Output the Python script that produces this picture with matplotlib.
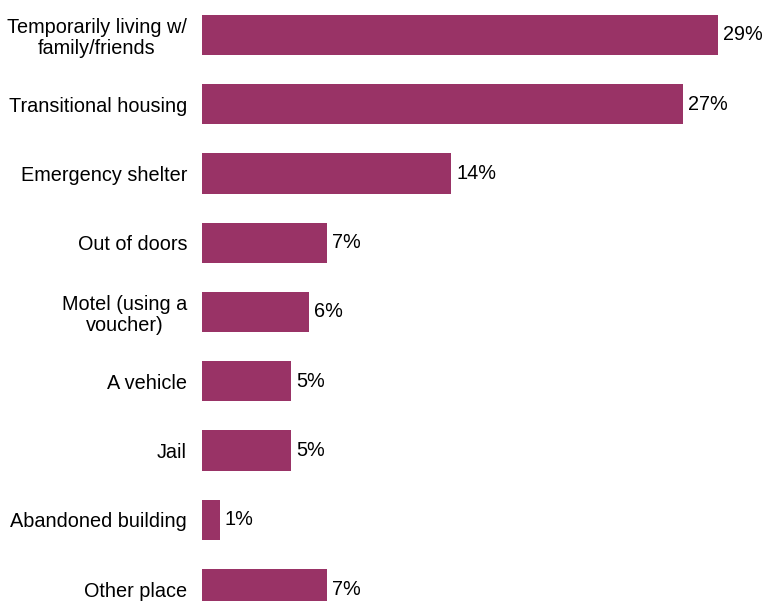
import matplotlib.pyplot as plt

plt.rcParams['font.family'] = ['Liberation Sans', 'DejaVu Sans']

places = ["Temporarily living w/\nfamily/friends", "Transitional housing",
          "Emergency shelter", "Out of doors", "Motel (using a\nvoucher)",
          "A vehicle", "Jail", "Abandoned building", "Other place"]
pct = [29, 27, 14, 7, 6, 5, 5, 1, 7]

bar_color = "#993366"
fs = 14.3

fig = plt.figure(figsize=(7.68, 6.01), dpi=100)
# axes start where the bars start; labels sit to the left of it
ax = fig.add_axes([202 / 768, 0, 552 / 768, 1])

pos = list(range(len(places)))
ax.barh(pos, pct, height=0.578, color=bar_color)

for y, v in zip(pos, pct):
    ax.text(v + 0.28, y, f"{v}%", va="center", ha="left", fontsize=fs)

ax.set_xlim(0, 31)
ax.set_ylim(8.173, -0.505)
ax.set_yticks(pos)
ax.set_yticklabels(places, fontsize=fs, multialignment="center", linespacing=1.15)
ax.tick_params(axis="y", length=0, pad=10.8)
ax.set_xticks([])
for s in ax.spines.values():
    s.set_visible(False)

fig.savefig("out.png", dpi=100)
